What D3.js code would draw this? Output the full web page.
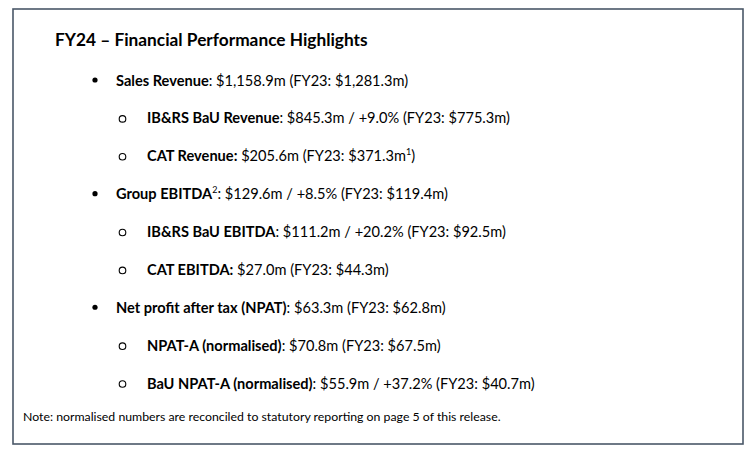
<!DOCTYPE html>
<html><head><meta charset="utf-8">
<script src="https://cdn.jsdelivr.net/npm/d3@7"></script>
<style>body{margin:0;background:#fff}</style>
</head><body>
<script>
const title = "FY24 \u2013 Financial Performance Highlights";
const labels = ["Sales Revenue","IB&RS BaU Revenue","CAT Revenue","Group EBITDA","IB&RS BaU EBITDA","CAT EBITDA","Net profit after tax (NPAT)","NPAT-A (normalised)","BaU NPAT-A (normalised)"];
const levels = [1,2,2,1,2,2,1,2,2];
const labelSup = ["","","","2","","","","",""];
const boldColon = [false,false,true,false,false,true,false,false,false];
const fy24 = [1158.9,845.3,205.6,129.6,111.2,27.0,63.3,70.8,55.9];
const growth = [null,9.0,null,8.5,20.2,null,null,null,37.2];
const fy23 = [1281.3,775.3,371.3,119.4,92.5,44.3,62.8,67.5,40.7];
const fy23Sup = ["","","1","","","","","",""];
const note = "Note: normalised numbers are reconciled to statutory reporting on page 5 of this release.";

const W = 756, H = 460;
const svg = d3.select("body").append("svg").attr("width", W).attr("height", H)
  .style("font-family", "Lato, 'Open Sans', sans-serif");

svg.append("rect").attr("x", 13).attr("y", 9).attr("width", 730).attr("height", 435)
  .attr("fill", "#fff").attr("stroke", "#4a5868").attr("stroke-width", 1.6);

svg.append("text").attr("x", 55).attr("y", 46).attr("font-size", 17.3).attr("font-weight", 700)
  .attr("fill", "#000").text(title);

const y = d3.scalePoint().domain(d3.range(labels.length)).range([80, 383]);
const fmt = d3.format(",.1f");
const xText = {1: 116, 2: 147};
const xBullet = {1: 93, 2: 120};

labels.forEach((lab, i) => {
  const cy = y(i);
  const lvl = levels[i];
  if (lvl === 1) {
    svg.append("circle").attr("cx", xBullet[1] + 2).attr("cy", cy).attr("r", 2.6).attr("fill", "#000");
  } else {
    svg.append("circle").attr("cx", xBullet[2] + 2.5).attr("cy", cy + 1).attr("r", 3.3)
      .attr("fill", "none").attr("stroke", "#000").attr("stroke-width", 1.1);
  }
  const t = svg.append("text").attr("x", xText[lvl]).attr("y", cy + 5.5)
    .attr("font-size", 14.6).attr("fill", "#000");
  t.append("tspan").attr("font-weight", 700).text(lab + (boldColon[i] ? ":" : ""));
  if (labelSup[i]) t.append("tspan").attr("font-size", 9).attr("dy", -6).text(labelSup[i]);
  const rest = (boldColon[i] ? " " : ": ") + "$" + fmt(fy24[i]) + "m" +
    (growth[i] != null ? " / +" + growth[i].toFixed(1) + "%" : "") +
    " (FY23: $" + fmt(fy23[i]) + "m";
  t.append("tspan").attr("dy", labelSup[i] ? 6 : 0).text(rest);
  if (fy23Sup[i]) {
    t.append("tspan").attr("font-size", 9).attr("dy", -6).text(fy23Sup[i]);
    t.append("tspan").attr("dy", 6).text(")");
  } else {
    t.append("tspan").text(")");
  }
});

svg.append("text").attr("x", 23).attr("y", 421).attr("font-size", 12.3).attr("fill", "#000").text(note);
</script>
</body></html>
